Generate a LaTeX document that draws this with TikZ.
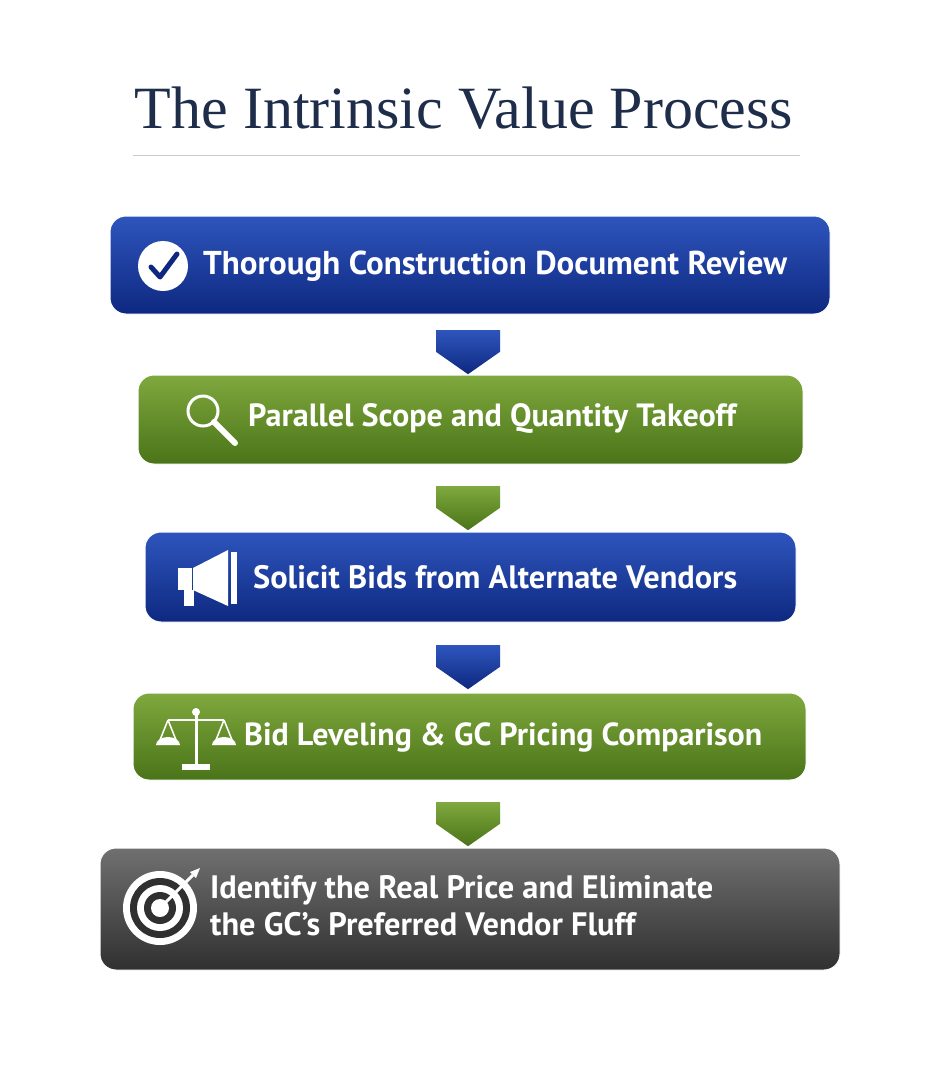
\documentclass[tikz,border=0pt]{standalone}
\usepackage{fontspec}
\setmainfont{PT Sans}
\newfontfamily\titlefont{Liberation Serif}
\usetikzlibrary{shapes.arrows}
\definecolor{bt}{HTML}{2E55BD}\definecolor{bb}{HTML}{0E2880}
\definecolor{gt}{HTML}{7FA83E}\definecolor{gb}{HTML}{4A7418}
\definecolor{kt}{HTML}{707070}\definecolor{kb}{HTML}{303030}
\definecolor{navy}{HTML}{1E2D4A}
\begin{document}
\begin{tikzpicture}[x=1pt,y=-1pt,
 box/.style={rounded corners=16pt,draw=white,line width=1pt},
 blue/.style={box,top color=bt,bottom color=bb},
 green/.style={box,top color=gt,bottom color=gb},
 gray/.style={box,top color=kt,bottom color=kb},
 lbl/.style={text=white,font=\bfseries\fontsize{30}{36}\selectfont,align=left,anchor=west,inner sep=0pt},
 arr/.style={single arrow,shape border rotate=270,minimum width=64pt,minimum height=44pt,single arrow head extend=0pt,single arrow tip angle=110,inner sep=0pt},
 ic/.style={white,line width=3pt}]
\useasboundingbox[fill=white] (0,0) rectangle (941,1080);
\node[text=navy,font=\titlefont\fontsize{60}{64}\selectfont] (title) at (464,108) {The Intrinsic Value Process};
\draw[black!20,line width=1pt] (133,155) -- (800,155);
\path[blue] (110,216) rectangle (830,314);
\path[green] (138,375) rectangle (803,464);
\path[blue] (145,532) rectangle (796,622);
\path[green] (133,693) rectangle (806,780);
\path[gray] (100,848) rectangle (840,970);
\node[arr,top color=bt,bottom color=bb] (a1) at (468,341) {};
\node[arr,top color=gt,bottom color=gb] (a2) at (468,497) {};
\node[arr,top color=bt,bottom color=bb] (a3) at (468,656) {};
\node[arr,top color=gt,bottom color=gb] (a4) at (468,813) {};
\node[lbl] (t1) at (203,266) {\resizebox{584pt}{!}{Thorough Construction Document Review}};
\node[lbl] (t2) at (248,418) {\resizebox{488pt}{!}{Parallel Scope and Quantity Takeoff}};
\node[lbl] (t3) at (253,577) {\resizebox{484pt}{!}{Solicit Bids from Alternate Vendors}};
\node[lbl] (t4) at (244,737) {\resizebox{518pt}{!}{Bid Leveling \& GC Pricing Comparison}};
\node[lbl] (t5) at (210,909) {\resizebox{503pt}{!}{\begin{tabular}{@{}l@{}}Identify the Real Price and Eliminate\\[-2pt]the GC's Preferred Vendor Fluff\end{tabular}}};
% check
\fill[white] (163,266) circle (25);
\draw[bb,line width=5pt,line cap=round,line join=round] (151,267) -- (160,277) -- (177,254);
% magnifier
\draw[ic] (203,411) circle (15);
\draw[white,line width=6pt,line cap=round] (214,422) -- (235,443);
% megaphone
\fill[white] (178,568) rectangle (192,590);
\fill[white] (193,568) -- (228,550) -- (228,606) -- (193,590) -- cycle;
\fill[white] (231,552) rectangle (237,604);
\fill[white] (184,590) rectangle (194,606);
% scales
\draw[white,line width=3pt] (196,712) -- (196,766);
\fill[white] (182,764) rectangle (210,770);
\draw[white,line width=2.5pt] (168,720) -- (224,720);
\fill[white] (196,712) circle (4);
\draw[white,line width=1.5pt] (168,720) -- (158,745) (168,720) -- (178,745) (224,720)--(214,745) (224,720)--(234,745);
\fill[white] (156,745) arc (180:360:12 and 8) -- cycle;
\fill[white] (212,745) arc (180:360:12 and 8) -- cycle;
% target
\fill[white] (160,908) circle (37);
\fill[kb] (160,908) circle (30);
\fill[white] (160,908) circle (23);
\fill[kb] (160,908) circle (16);
\fill[white] (160,908) circle (9);
\draw[white,line width=3pt] (160,908) -- (193,875);
\fill[white] (190,872) -- (200,868) -- (196,878) -- cycle;
\end{tikzpicture}
\end{document}
